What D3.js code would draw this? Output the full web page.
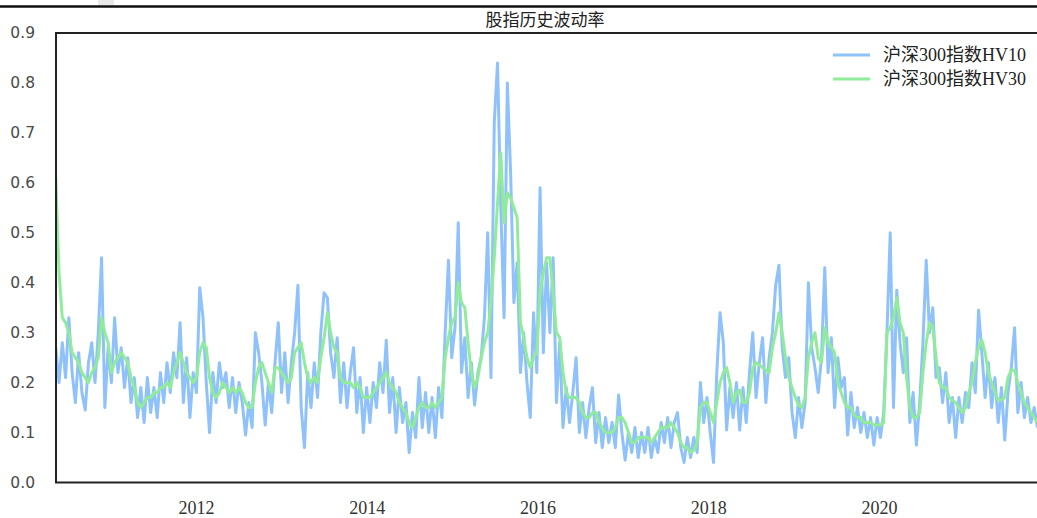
<!DOCTYPE html>
<html>
<head>
<meta charset="utf-8">
<script src="https://cdn.jsdelivr.net/npm/d3@7"></script>
<style>
  body { margin: 0; background: #fff; }
  svg { display: block; }
</style>
</head>
<body>
<svg id="chart" width="1037" height="518"></svg>
<script>
// sampled every 14 days starting from this date
var startDate = new Date(2010, 4, 11);
var stepDays = 14;

var seriesNames = ["沪深300指数HV10", "沪深300指数HV30"];
var seriesColors = ["#8fc1fb", "#90ec9a"];
var yTicks = [0, 0.1, 0.2, 0.3, 0.4, 0.5, 0.6, 0.7, 0.8, 0.9];
var xTickYears = [2012, 2014, 2016, 2018, 2020];

var hv10 = [
  0.27,0.20,0.28,0.21,0.33,0.22,0.16,0.26,0.18,0.145,
  0.24,0.28,0.20,0.30,0.45,0.15,0.27,0.20,0.33,0.22,
  0.27,0.19,0.25,0.16,0.21,0.13,0.19,0.12,0.21,0.14,
  0.19,0.13,0.22,0.16,0.24,0.18,0.26,0.21,0.32,0.16,
  0.25,0.13,0.22,0.18,0.39,0.33,0.20,0.10,0.22,0.16,
  0.24,0.19,0.22,0.15,0.21,0.14,0.20,0.16,0.095,0.16,
  0.11,0.30,0.26,0.20,0.115,0.20,0.14,0.24,0.32,0.18,
  0.26,0.16,0.24,0.30,0.395,0.15,0.07,0.22,0.15,0.24,
  0.17,0.30,0.38,0.37,0.26,0.21,0.29,0.16,0.24,0.15,
  0.22,0.27,0.14,0.21,0.10,0.19,0.12,0.20,0.15,0.24,
  0.18,0.285,0.14,0.21,0.10,0.19,0.12,0.16,0.06,0.14,
  0.09,0.21,0.11,0.18,0.10,0.17,0.09,0.19,0.13,0.30,
  0.445,0.25,0.31,0.52,0.22,0.29,0.17,0.24,0.155,0.22,
  0.25,0.33,0.50,0.21,0.72,0.84,0.55,0.33,0.80,0.62,
  0.36,0.44,0.22,0.30,0.20,0.13,0.34,0.22,0.59,0.26,
  0.44,0.30,0.45,0.16,0.28,0.11,0.19,0.12,0.18,0.25,
  0.10,0.16,0.09,0.15,0.19,0.08,0.14,0.07,0.13,0.08,
  0.12,0.07,0.175,0.10,0.045,0.10,0.06,0.11,0.05,0.10,
  0.06,0.11,0.05,0.09,0.06,0.12,0.08,0.13,0.07,0.12,
  0.14,0.07,0.04,0.09,0.05,0.09,0.06,0.20,0.12,0.17,
  0.10,0.04,0.22,0.34,0.28,0.105,0.19,0.13,0.20,0.105,
  0.19,0.12,0.22,0.30,0.17,0.24,0.29,0.16,0.25,0.30,
  0.395,0.435,0.27,0.21,0.25,0.14,0.09,0.17,0.11,0.16,
  0.40,0.27,0.23,0.18,0.25,0.43,0.22,0.29,0.15,0.25,
  0.19,0.21,0.095,0.18,0.11,0.15,0.10,0.14,0.09,0.13,
  0.075,0.13,0.09,0.14,0.30,0.50,0.15,0.385,0.28,0.22,
  0.29,0.12,0.18,0.075,0.16,0.28,0.445,0.30,0.35,0.21,
  0.23,0.16,0.22,0.12,0.17,0.09,0.17,0.12,0.18,0.15,
  0.24,0.18,0.345,0.26,0.17,0.24,0.15,0.21,0.12,0.19,
  0.085,0.18,0.23,0.31,0.14,0.20,0.13,0.17,0.12,0.15,
  0.11
];

var hv30 = [
  0.61,0.42,0.33,0.32,0.30,0.26,0.25,0.24,0.22,0.21,
  0.20,0.22,0.23,0.25,0.33,0.30,0.28,0.22,0.24,0.25,
  0.26,0.25,0.24,0.21,0.19,0.16,0.15,0.16,0.17,0.17,
  0.18,0.18,0.19,0.19,0.20,0.19,0.22,0.24,0.26,0.24,
  0.22,0.21,0.20,0.21,0.26,0.28,0.27,0.21,0.18,0.17,
  0.18,0.20,0.19,0.18,0.19,0.18,0.19,0.18,0.16,0.15,
  0.15,0.20,0.23,0.24,0.22,0.20,0.18,0.23,0.23,0.22,
  0.21,0.20,0.21,0.26,0.27,0.28,0.24,0.21,0.20,0.21,
  0.20,0.25,0.29,0.34,0.30,0.27,0.26,0.21,0.20,0.20,
  0.20,0.19,0.20,0.19,0.17,0.17,0.17,0.18,0.19,0.20,
  0.21,0.22,0.20,0.19,0.18,0.16,0.15,0.14,0.12,0.11,
  0.13,0.15,0.16,0.15,0.15,0.16,0.15,0.16,0.17,0.25,
  0.29,0.32,0.33,0.40,0.36,0.35,0.28,0.22,0.19,0.21,
  0.25,0.28,0.30,0.36,0.45,0.56,0.66,0.52,0.58,0.57,
  0.55,0.53,0.32,0.29,0.25,0.23,0.25,0.26,0.38,0.42,
  0.45,0.45,0.38,0.30,0.29,0.22,0.18,0.17,0.17,0.17,
  0.16,0.14,0.13,0.13,0.14,0.14,0.12,0.11,0.10,0.10,
  0.10,0.11,0.13,0.13,0.12,0.10,0.08,0.08,0.09,0.09,
  0.09,0.09,0.08,0.09,0.10,0.11,0.11,0.11,0.12,0.11,
  0.10,0.08,0.07,0.07,0.06,0.065,0.08,0.15,0.16,0.16,
  0.14,0.12,0.16,0.20,0.22,0.23,0.20,0.16,0.18,0.185,
  0.16,0.16,0.18,0.23,0.24,0.235,0.23,0.225,0.22,0.27,
  0.30,0.34,0.30,0.25,0.21,0.19,0.17,0.155,0.15,0.17,
  0.25,0.28,0.30,0.25,0.24,0.31,0.28,0.27,0.26,0.20,
  0.18,0.16,0.15,0.15,0.135,0.13,0.13,0.12,0.12,0.12,
  0.115,0.115,0.115,0.12,0.30,0.31,0.33,0.37,0.32,0.30,
  0.21,0.15,0.13,0.13,0.14,0.22,0.28,0.32,0.31,0.25,
  0.20,0.19,0.19,0.17,0.165,0.16,0.15,0.14,0.15,0.18,
  0.20,0.24,0.27,0.285,0.26,0.22,0.20,0.18,0.165,0.165,
  0.17,0.21,0.225,0.225,0.20,0.18,0.16,0.15,0.14,0.13,
  0.12
];

(function() {
  var W = 1037;
  var padL = 56, padT = 33, padB = 482.5, padR = 1037;

  var svg = d3.select("#chart");

  // dates for each sample
  var dates = hv10.map(function(d, i) { return d3.timeDay.offset(startDate, i * stepDays); });

  // anchored on the year ticks of the original
  var x = d3.scaleTime()
    .domain([new Date(2012, 0, 1), new Date(2020, 0, 1)])
    .range([196, 879]);
  var y = d3.scaleLinear().domain([0, 0.9]).range([padB, padT]);

  // stray header strip at the very top
  svg.append("rect").attr("x", 98).attr("y", 0).attr("width", 16).attr("height", 5).attr("fill", "#e8e8e8");
  svg.append("line").attr("x1", 0).attr("x2", W).attr("y1", 6.5).attr("y2", 6.5)
    .attr("stroke", "#111").attr("stroke-width", 2.5);

  // title
  svg.append("text")
    .attr("x", 545).attr("y", 26)
    .attr("text-anchor", "middle")
    .style("font-family", "'Noto Sans CJK SC'")
    .style("font-size", "17px")
    .attr("fill", "#222")
    .text("股指历史波动率");

  svg.append("clipPath").attr("id", "plotclip")
    .append("rect").attr("x", padL).attr("y", padT).attr("width", padR - padL).attr("height", padB - padT);

  var line = d3.line()
    .x(function(d) { return x(d[0]); })
    .y(function(d) { return y(d[1]); });

  var series = [hv10, hv30];
  var plot = svg.append("g").attr("clip-path", "url(#plotclip)");
  series.forEach(function(vals, k) {
    var pts = vals.map(function(v, i) { return [dates[i], v]; });
    plot.append("path")
      .attr("d", line(pts))
      .attr("fill", "none")
      .attr("stroke", seriesColors[k])
      .attr("stroke-width", 3)
      .attr("stroke-linejoin", "round");
  });

  // spines
  svg.append("path")
    .attr("d", "M" + padR + "," + padT + "H" + padL + "V" + padB + "H" + padR)
    .attr("fill", "none").attr("stroke", "#222").attr("stroke-width", 2);

  // y axis labels
  var yAxis = svg.append("g")
    .attr("transform", "translate(" + padL + ",0)")
    .call(d3.axisLeft(y).tickValues(yTicks).tickSize(0).tickPadding(21).tickFormat(d3.format(".1f")));
  yAxis.select(".domain").remove();
  yAxis.selectAll("text")
    .style("font-family", "'DejaVu Sans'")
    .style("font-size", "15.5px")
    .attr("fill", "#4a4a4a");

  // x axis labels
  var xAxis = svg.append("g")
    .attr("transform", "translate(0," + padB + ")")
    .call(d3.axisBottom(x)
      .tickValues(xTickYears.map(function(yr) { return new Date(yr, 0, 1); }))
      .tickSize(0).tickPadding(19)
      .tickFormat(d3.timeFormat("%Y")));
  xAxis.select(".domain").remove();
  xAxis.selectAll("text")
    .style("font-family", "'Liberation Serif'")
    .style("font-size", "18px")
    .attr("fill", "#333");

  // legend
  var legend = svg.append("g");
  seriesNames.forEach(function(name, k) {
    var ly = 55 + k * 24;
    legend.append("line")
      .attr("x1", 833).attr("x2", 870).attr("y1", ly).attr("y2", ly)
      .attr("stroke", seriesColors[k]).attr("stroke-width", 3);
    legend.append("text")
      .attr("x", 883).attr("y", ly)
      .attr("dy", "0.35em")
      .style("font-family", "'Liberation Serif', 'Noto Sans CJK SC'")
      .style("font-size", "18px")
      .attr("fill", "#222")
      .text(name);
  });
})();
</script>
</body>
</html>
